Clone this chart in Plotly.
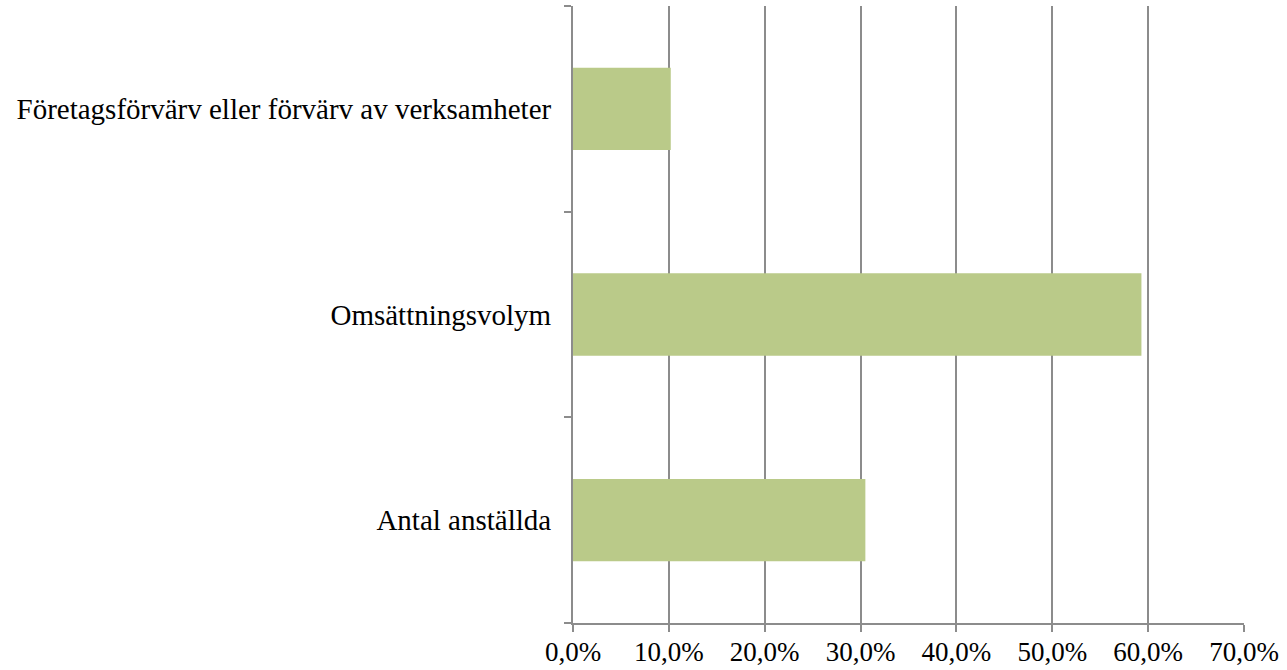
import plotly.graph_objects as go

categories = ["Antal anställda", "Omsättningsvolym", "Företagsförvärv eller förvärv av verksamheter"]
values = [0.305, 0.593, 0.102]

fig = go.Figure(
    go.Bar(
        x=values,
        y=categories,
        orientation="h",
        width=0.4,
        marker=dict(color="#BACA89", line=dict(width=0)),
    )
)

fig.update_layout(
    width=1287,
    height=670,
    margin=dict(l=573, r=43, t=6, b=47),
    plot_bgcolor="white",
    paper_bgcolor="white",
    separators=", ",
    showlegend=False,
    font=dict(family="Liberation Serif", size=29, color="black"),
)

fig.update_xaxes(
    range=[0, 0.7],
    dtick=0.1,
    tickformat=".1%",
    showgrid=True,
    gridcolor="#8C8C8C",
    gridwidth=2,
    showline=True,
    linecolor="#8C8C8C",
    linewidth=2,
    ticks="outside",
    ticklen=7,
    tickwidth=2,
    tickcolor="#8C8C8C",
    zeroline=False,
    automargin=False,
    ticklabelstandoff=-3,
    tickfont=dict(size=27),
)

fig.update_yaxes(
    categoryorder="array",
    categoryarray=categories,
    showgrid=False,
    showline=True,
    linecolor="#8C8C8C",
    linewidth=2,
    ticks="outside",
    tickson="boundaries",
    ticklen=7,
    tickwidth=2,
    tickcolor="#8C8C8C",
    ticklabelstandoff=14,
    automargin=False,
    tickfont=dict(size=29),
)

# the page body has a default 8px margin; drop it so the plot sits at 0,0
fig.write_html(
    "out.html",
    config={"displayModeBar": False},
    post_script="document.body.style.margin='0';",
)
